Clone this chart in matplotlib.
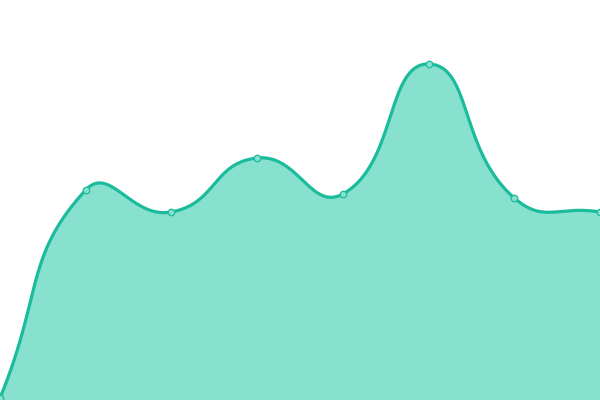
import numpy as np
import matplotlib
matplotlib.use("Agg")
import matplotlib.pyplot as plt

categories = list(range(8))
values = [2, 210, 188, 242, 206, 336, 202, 188]

LINE = "#1abc9c"
FILL = "#88e0cf"
SMOOTH = 0.5

def smooth_path(P, smooth=SMOOTH, n=60):
    # ECharts-style smoothing computed in display space
    P = np.asarray(P, float)
    N = len(P)
    cp_in = [None] * N
    cp_out = [None] * N
    for i in range(N):
        prev = P[i - 1] if i > 0 else P[i]
        nxt = P[i + 1] if i < N - 1 else P[i]
        v = nxt - prev
        l0 = np.hypot(*(P[i] - prev))
        l1 = np.hypot(*(nxt - P[i]))
        r = l1 / (l0 + l1) if (l0 + l1) > 0 else 0.5
        cp_out[i] = P[i] + v * smooth * r
        cp_in[i] = P[i] - v * smooth * (1 - r)
    out = []
    for i in range(N - 1):
        p1, c1, c2, p2 = P[i], cp_out[i], cp_in[i + 1], P[i + 1]
        t = np.linspace(0, 1, n, endpoint=(i == N - 2))[:, None]
        out.append((1 - t) ** 3 * p1 + 3 * (1 - t) ** 2 * t * c1 + 3 * (1 - t) * t ** 2 * c2 + t ** 3 * p2)
    return np.vstack(out)

fig = plt.figure(figsize=(6, 4), dpi=100)
ax = fig.add_axes([0, 0, 1, 1])
ax.set_xlim(0, 7)
ax.set_ylim(0, 400)
ax.axis("off")

disp = ax.transData.transform(np.column_stack([categories, values]))
curve = ax.transData.inverted().transform(smooth_path(disp))
sx, sy = curve[:, 0], curve[:, 1]

ax.fill_between(sx, sy, 0, color=FILL, lw=0, zorder=1)
ax.plot(sx, sy, color=LINE, lw=2.3, zorder=2, solid_capstyle="round")
ax.scatter(categories, values, s=22, facecolor=FILL, edgecolor=LINE, linewidths=0.9, zorder=3, clip_on=False)
fig.savefig("out.png", dpi=100)
